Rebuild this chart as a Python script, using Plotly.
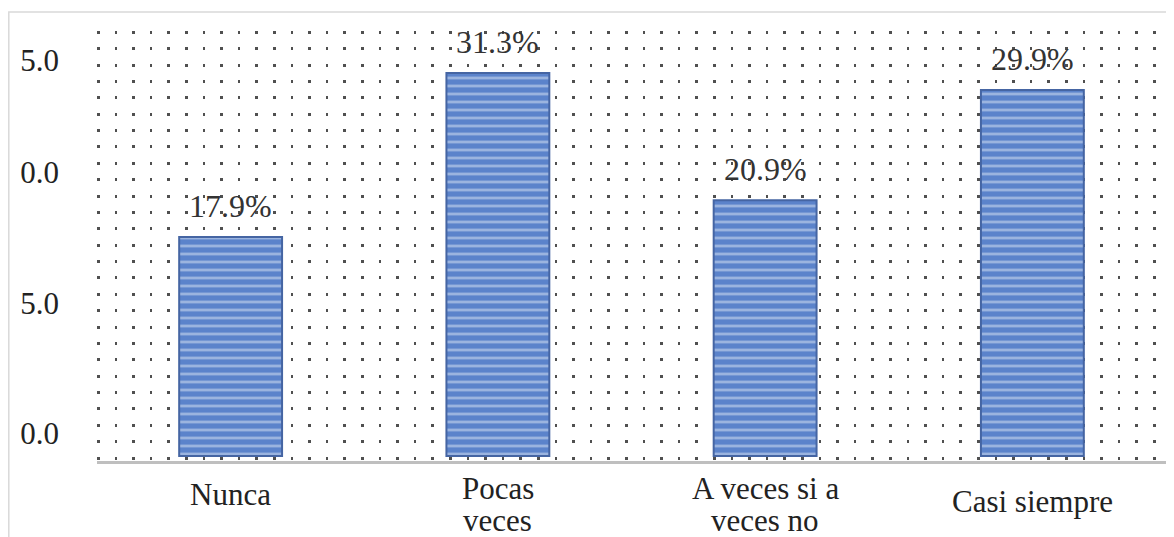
import plotly.graph_objects as go

# data
categories = ["Nunca", "Pocas veces", "A veces si a veces no", "Casi siempre"]
label_line1 = ["Nunca", "Pocas", "A veces si a", "Casi siempre"]
label_line2 = ["", "veces", "veces no", ""]
percent = [17.9, 31.3, 20.9, 29.9]
labels = ["17.9%", "31.3%", "20.9%", "29.9%"]

# y tick labels as they appear (cut off on the left in the original)
y_tickvals = [1.9, 12.5, 23.2, 32.3]
y_ticktext = ["0.0", "5.0", "0.0", "5.0"]

serif = "Liberation Serif, Times New Roman, serif"

fig = go.Figure()

# blue bars with thin light horizontal stripes
fig.add_trace(go.Bar(
    x=categories,
    y=percent,
    width=0.385,
    marker=dict(
        color="#5a82ca",
        line=dict(color="#4565a3", width=2),
        pattern=dict(shape="-", fgcolor="#dce5f4", bgcolor="#5b83cb", size=8, solidity=0.35),
    ),
    hoverinfo="skip",
))

# value labels above bars
for c, v, t in zip(categories, percent, labels):
    fig.add_annotation(x=c, y=v, text=t, showarrow=False, yanchor="bottom", yshift=11,
                       font=dict(family=serif, size=32, color="#333333"))

# category labels (two lines, tight spacing like the original)
for c, l1, l2 in zip(categories, label_line1, label_line2):
    shift = -27 if l2 else -33
    if c == "Casi siempre":
        shift = -40
    fig.add_annotation(x=c, y=0, xref="x", yref="paper", text=l1, showarrow=False,
                       yanchor="middle", yshift=shift,
                       font=dict(family=serif, size=31, color="#222222"))
    if l2:
        fig.add_annotation(x=c, y=0, xref="x", yref="paper", text=l2, showarrow=False,
                           yanchor="middle", yshift=-59,
                           font=dict(family=serif, size=31, color="#222222"))

# faint frame around the picture
fig.add_shape(type="rect", xref="paper", yref="paper", x0=-0.0825, y0=-0.3, x1=1.05, y1=1.0322,
              line=dict(color="#d9d9d9", width=1.5), fillcolor="rgba(0,0,0,0)", layer="below")

fig.update_layout(
    width=1166, height=529,
    margin=dict(l=89, r=8, t=18, b=76),
    paper_bgcolor="white", plot_bgcolor="white",
    showlegend=False,
    font=dict(family=serif, size=31, color="#222222"),
)

fig.update_xaxes(
    tickvals=categories, showticklabels=False,
    showline=True, linecolor="#bfbfbf", linewidth=3,
    showgrid=False, ticks="",
    range=[-0.5, 3.5], automargin=False,
)

fig.update_yaxes(
    range=[-0.41, 35.13],
    tickvals=y_tickvals, ticktext=y_ticktext,
    tickfont=dict(size=31, family=serif, color="#222222"),
    ticklabelstandoff=37, automargin=False,
    showgrid=False, zeroline=False, showline=False, ticks="",
    minor=dict(showgrid=True, tick0=1.17, dtick=1.3375, gridcolor="#505050",
               gridwidth=2.5, griddash="2.5px,15.1px"),
)

fig.write_html("out.html")
